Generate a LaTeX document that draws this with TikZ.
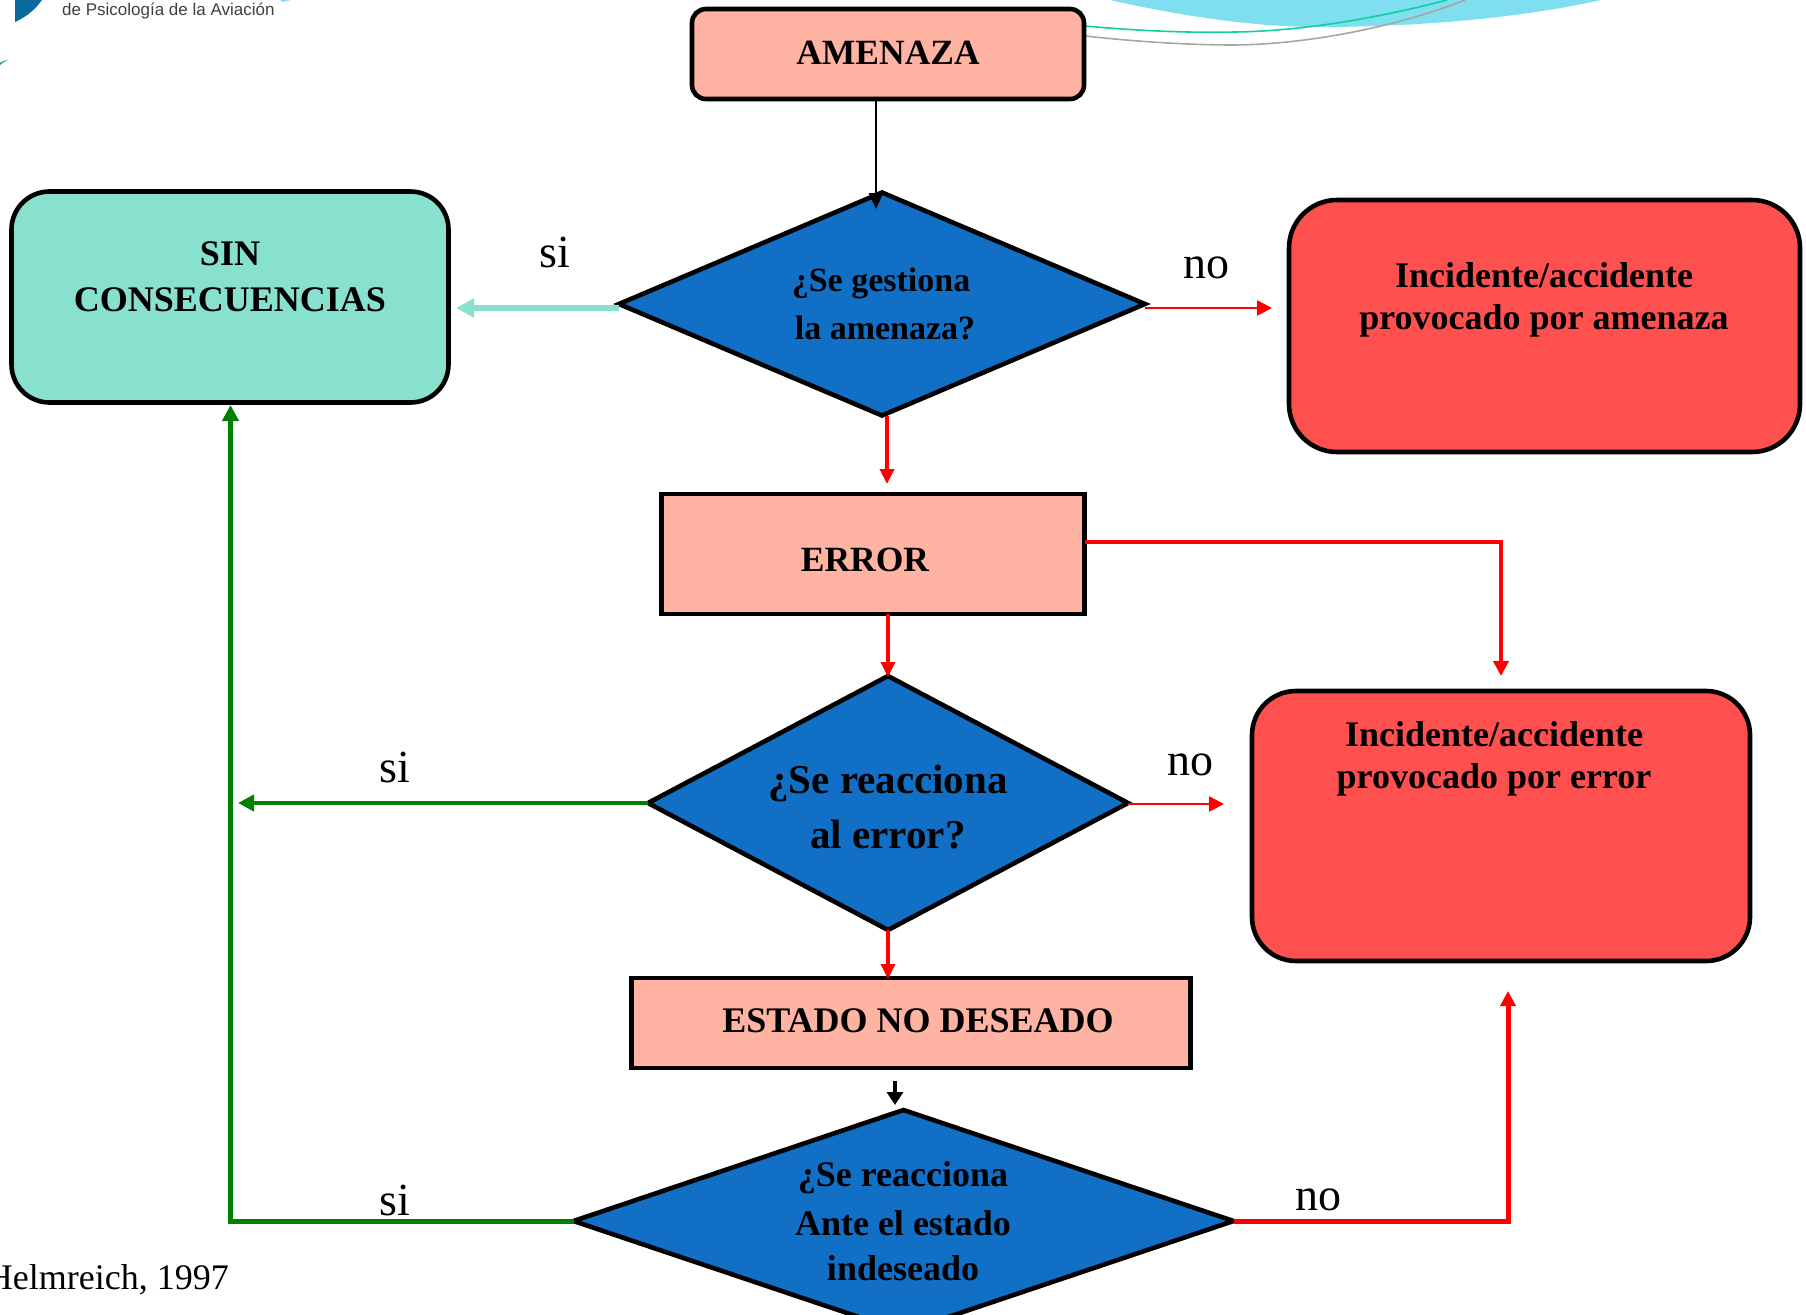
\documentclass[tikz,border=0pt]{standalone}
\usepackage{fontspec}
\setmainfont{Liberation Serif}
\newfontfamily\logofont{Liberation Sans}
\usetikzlibrary{shapes.geometric,arrows.meta}
\definecolor{salmon}{HTML}{FFB3A3}
\definecolor{mint}{HTML}{88E0CF}
\definecolor{redbox}{HTML}{FF5050}
\definecolor{bluedia}{HTML}{1170C6}
\definecolor{greenline}{HTML}{008000}
\definecolor{cyanwave}{HTML}{7FDEEF}
\definecolor{greenwave}{HTML}{10CFA0}
\definecolor{logoblue}{HTML}{0A6A9E}
\tikzset{
  x=1pt,y=-1pt,
  flowbox/.style={draw=black,line width=4.6pt,inner sep=0pt,outer sep=0pt},
  salmonbox/.style={flowbox,fill=salmon},
  query/.style={diamond,draw=black,fill=bluedia,line width=4.6pt,inner sep=0pt,outer sep=0pt},
  boldtxt/.style={font=\bfseries\fontsize{#1}{#1}\selectfont,align=center,inner sep=0pt,anchor=center},
  labeltxt/.style={font=\fontsize{46}{46}\selectfont,inner sep=0pt,anchor=center},
  thinblack/.style={draw=black,line width=2.6pt,-{Triangle[length=16pt,width=14pt]}},
  thinred/.style={draw=red,line width=2.6pt,-{Triangle[length=15pt,width=15pt]}},
  midred/.style={draw=red,line width=3.4pt,-{Triangle[length=15pt,width=14pt]}},
  thickred/.style={draw=red,line width=4.4pt,-{Triangle[length=15pt,width=15pt]}},
  thickgreen/.style={draw=greenline,line width=4.6pt,-{Triangle[length=16pt,width=16pt]}},
  minty/.style={draw=mint,line width=6pt,-{Triangle[length=18pt,width=18pt]}},
}
\begin{document}
\begin{tikzpicture}
\useasboundingbox (0,0) rectangle (1806,1314);
\clip (0,0) rectangle (1806,1314);
% background wave and logo remnants
\fill[cyanwave] (1110,0) .. controls (1190,18) and (1260,27) .. (1319,27) .. controls (1430,27) and (1530,16) .. (1601,0) -- cycle;
\draw[greenwave,line width=1.6pt] (1085,26) .. controls (1140,31) and (1190,33) .. (1235,32) .. controls (1310,31) and (1390,15) .. (1447,0);
\draw[gray!70,line width=1.6pt] (1085,36) .. controls (1140,42) and (1190,45) .. (1235,45) .. controls (1320,44) and (1410,22) .. (1465,0);
\fill[logoblue] (15,22) -- (15,0) -- (42,0) .. controls (35,10) and (26,17) .. (15,22) -- cycle;
\fill[cyanwave] (280,0) -- (291,0) -- (282,2) -- cycle;
\fill[teal!80!cyan] (0,63) .. controls (3,61) and (6,60) .. (9,60) .. controls (5,61) and (2,63) .. (0,65) -- cycle;
\node[font=\logofont\fontsize{17}{17}\selectfont,anchor=base west,inner sep=0pt,text=black!75] (logob) at (62,16) {de Psicología de la Aviación};
\node[font=\logofont\fontsize{17}{17}\selectfont,anchor=base west,inner sep=0pt,text=black!75] (logoa) at (62,-3) {Asociación Española};
% boxes
\node[salmonbox,rounded corners=14pt,minimum width=392pt,minimum height=90pt] (amenaza) at (888,54) {};
\node[flowbox,fill=mint,rounded corners=38pt,minimum width=437pt,minimum height=211pt] (sin) at (230,297) {};
\node[flowbox,fill=redbox,rounded corners=48pt,minimum width=511pt,minimum height=252pt] (incA) at (1544.5,326) {};
\node[salmonbox,minimum width=423pt,minimum height=120pt] (error) at (873,554) {};
\node[flowbox,fill=redbox,rounded corners=44pt,minimum width=498pt,minimum height=270pt] (incE) at (1501,826) {};
\node[salmonbox,minimum width=559pt,minimum height=90pt] (estado) at (911,1023) {};
% diamonds
\node[query,minimum width=526pt,minimum height=223pt] (q1) at (882,304) {};
\node[query,minimum width=480pt,minimum height=254pt] (q2) at (888,803) {};
\node[query,minimum width=660pt,minimum height=222pt] (q3) at (903.5,1221) {};
% free ends
\coordinate (e1) at (876,209);
\coordinate (e2) at (456,308);
\coordinate (e3) at (1272,308);
\coordinate (e4) at (887,484);
\coordinate (e5) at (1501,676);
\coordinate (e5a) at (1085,542);
\coordinate (e6) at (888,677);
\coordinate (e7) at (238,803);
\coordinate (e8) at (1224,804);
\coordinate (e9) at (888,979);
\coordinate (e10s) at (895,1081);
\coordinate (e10) at (895,1105);
\coordinate (e11) at (230.5,405);
\coordinate (e12) at (1508,991);
% connectors
\draw[thinblack] (e1 |- amenaza.south) -- (e1);
\draw[minty] (q1.west |- e2) -- (e2);
\draw[thinred] (q1.east |- e3) -- (e3);
\draw[midred] (e4 |- q1.south) -- (e4);
\draw[thickred] (e5a) -| (e5);
\draw[midred] (e6 |- error.south) -- (e6);
\draw[thickgreen] (q2.west |- e7) -- (e7);
\draw[thinred] (q2.east |- e8) -- (e8);
\draw[midred] (e9 |- q2.south) -- (e9);
\draw[draw=black,line width=4.4pt,-{Triangle[length=13pt,width=16pt]}] (e10s) -- (e10);
\draw[thickgreen,line width=5pt] (q3.west) -| (e11);
\draw[thickred,line width=5pt] (q3.east) -| (e12);
% texts
\node[boldtxt=35.5] (t1) at (888,53) {AMENAZA};
\node[boldtxt=36] (t2a) at (230,254) {SIN};
\node[boldtxt=36] (t2b) at (230,300) {CONSECUENCIAS};
\node[boldtxt=34] (t3a) at (881,283) {¿Se gestiona};
\node[boldtxt=34] (t3b) at (885,328) {la amenaza?};
\node[boldtxt=36] (t4a) at (1544,275) {Incidente/accidente};
\node[boldtxt=36] (t4b) at (1544,321) {provocado por amenaza};
\node[boldtxt=35.5] (t5) at (865,560) {ERROR};
\node[boldtxt=41] (t6a) at (888,784) {¿Se reacciona};
\node[boldtxt=41] (t6b) at (888,835) {al error?};
\node[boldtxt=36] (t7a) at (1494,734) {Incidente/accidente};
\node[boldtxt=36] (t7b) at (1494,780) {provocado por error};
\node[boldtxt=36] (t8) at (918,1021) {ESTADO NO DESEADO};
\node[boldtxt=36] (t9a) at (903,1178) {¿Se reacciona};
\node[boldtxt=36] (t9b) at (903,1223) {Ante el estado};
\node[boldtxt=36] (t9c) at (903,1268) {indeseado};
\node[labeltxt] (l1) at (555,252) {si};
\node[labeltxt] (l2) at (1206,268) {no};
\node[labeltxt] (l3) at (395,767) {si};
\node[labeltxt] (l4) at (1190,765) {no};
\node[labeltxt] (l5) at (395,1200) {si};
\node[labeltxt] (l6) at (1318,1200) {no};
\node[font=\fontsize{36}{36}\selectfont,anchor=base east,inner sep=0pt] (ref) at (229,1289) {Helmreich, 1997};
\end{tikzpicture}
\end{document}
